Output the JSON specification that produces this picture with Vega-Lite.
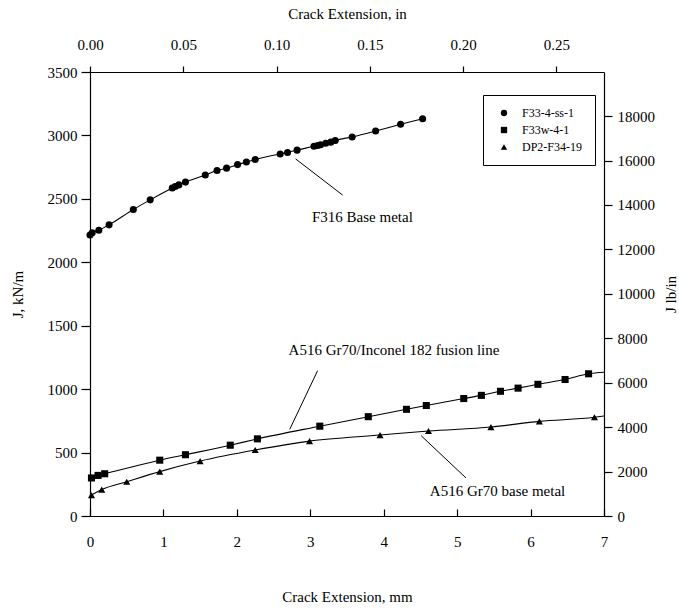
{
  "$schema": "https://vega.github.io/schema/vega-lite/v6.json",
  "width": 514,
  "height": 444,
  "autosize": "none",
  "padding": {"left": 90, "top": 72, "right": 75, "bottom": 94},
  "background": "white",
  "config": {
    "font": "Liberation Serif",
    "view": {"stroke": null},
    "axis": {
      "labelFont": "Liberation Serif", "titleFont": "Liberation Serif",
      "labelFontSize": 15, "titleFontSize": 15, "titleFontWeight": "normal",
      "labelColor": "black", "titleColor": "black", "domainColor": "black", "tickColor": "black",
      "domainWidth": 1.2, "tickWidth": 1.2, "grid": false, "labelFlush": false
    },
    "legend": {
      "labelFont": "Liberation Serif", "labelFontSize": 12, "labelColor": "black",
      "strokeColor": "black", "padding": 12, "symbolSize": 40, "symbolFillColor": "black",
      "symbolStrokeColor": "black", "symbolStrokeWidth": 0, "rowPadding": 5, "labelOffset": 12, "symbolOffset": 3
    }
  },
  "datasets": {
    "curves": [
      {"series": "F33-4-ss-1", "mm": 0.00, "J": 2215, "marker": true},
      {"series": "F33-4-ss-1", "mm": 0.03, "J": 2233, "marker": true},
      {"series": "F33-4-ss-1", "mm": 0.12, "J": 2253, "marker": true},
      {"series": "F33-4-ss-1", "mm": 0.26, "J": 2295, "marker": true},
      {"series": "F33-4-ss-1", "mm": 0.59, "J": 2416, "marker": true},
      {"series": "F33-4-ss-1", "mm": 0.82, "J": 2492, "marker": true},
      {"series": "F33-4-ss-1", "mm": 1.12, "J": 2585, "marker": true},
      {"series": "F33-4-ss-1", "mm": 1.16, "J": 2597, "marker": true},
      {"series": "F33-4-ss-1", "mm": 1.21, "J": 2610, "marker": true},
      {"series": "F33-4-ss-1", "mm": 1.30, "J": 2632, "marker": true},
      {"series": "F33-4-ss-1", "mm": 1.57, "J": 2688, "marker": true},
      {"series": "F33-4-ss-1", "mm": 1.73, "J": 2724, "marker": true},
      {"series": "F33-4-ss-1", "mm": 1.86, "J": 2742, "marker": true},
      {"series": "F33-4-ss-1", "mm": 2.01, "J": 2770, "marker": true},
      {"series": "F33-4-ss-1", "mm": 2.13, "J": 2790, "marker": true},
      {"series": "F33-4-ss-1", "mm": 2.25, "J": 2810, "marker": true},
      {"series": "F33-4-ss-1", "mm": 2.59, "J": 2854, "marker": true},
      {"series": "F33-4-ss-1", "mm": 2.69, "J": 2866, "marker": true},
      {"series": "F33-4-ss-1", "mm": 2.82, "J": 2884, "marker": true},
      {"series": "F33-4-ss-1", "mm": 3.05, "J": 2914, "marker": true},
      {"series": "F33-4-ss-1", "mm": 3.10, "J": 2921, "marker": true},
      {"series": "F33-4-ss-1", "mm": 3.14, "J": 2927, "marker": true},
      {"series": "F33-4-ss-1", "mm": 3.21, "J": 2939, "marker": true},
      {"series": "F33-4-ss-1", "mm": 3.28, "J": 2947, "marker": true},
      {"series": "F33-4-ss-1", "mm": 3.34, "J": 2960, "marker": true},
      {"series": "F33-4-ss-1", "mm": 3.57, "J": 2988, "marker": true},
      {"series": "F33-4-ss-1", "mm": 3.89, "J": 3035, "marker": true},
      {"series": "F33-4-ss-1", "mm": 4.23, "J": 3088, "marker": true},
      {"series": "F33-4-ss-1", "mm": 4.53, "J": 3132, "marker": true},
      {"series": "F33w-4-1", "mm": 0.02, "J": 300, "marker": true},
      {"series": "F33w-4-1", "mm": 0.11, "J": 320, "marker": true},
      {"series": "F33w-4-1", "mm": 0.20, "J": 333, "marker": true},
      {"series": "F33w-4-1", "mm": 0.95, "J": 440, "marker": true},
      {"series": "F33w-4-1", "mm": 1.30, "J": 483, "marker": true},
      {"series": "F33w-4-1", "mm": 1.91, "J": 558, "marker": true},
      {"series": "F33w-4-1", "mm": 2.28, "J": 608, "marker": true},
      {"series": "F33w-4-1", "mm": 3.13, "J": 708, "marker": true},
      {"series": "F33w-4-1", "mm": 3.79, "J": 783, "marker": true},
      {"series": "F33w-4-1", "mm": 4.31, "J": 841, "marker": true},
      {"series": "F33w-4-1", "mm": 4.58, "J": 871, "marker": true},
      {"series": "F33w-4-1", "mm": 5.09, "J": 926, "marker": true},
      {"series": "F33w-4-1", "mm": 5.33, "J": 951, "marker": true},
      {"series": "F33w-4-1", "mm": 5.59, "J": 983, "marker": true},
      {"series": "F33w-4-1", "mm": 5.83, "J": 1008, "marker": true},
      {"series": "F33w-4-1", "mm": 6.10, "J": 1038, "marker": true},
      {"series": "F33w-4-1", "mm": 6.47, "J": 1076, "marker": true},
      {"series": "F33w-4-1", "mm": 6.79, "J": 1121, "marker": true},
      {"series": "F33w-4-1", "mm": 7.00, "J": 1133, "marker": false},
      {"series": "DP2-F34-19", "mm": 0.02, "J": 165, "marker": true},
      {"series": "DP2-F34-19", "mm": 0.16, "J": 208, "marker": true},
      {"series": "DP2-F34-19", "mm": 0.50, "J": 270, "marker": true},
      {"series": "DP2-F34-19", "mm": 0.95, "J": 350, "marker": true},
      {"series": "DP2-F34-19", "mm": 1.50, "J": 433, "marker": true},
      {"series": "DP2-F34-19", "mm": 2.25, "J": 520, "marker": true},
      {"series": "DP2-F34-19", "mm": 2.99, "J": 590, "marker": true},
      {"series": "DP2-F34-19", "mm": 3.95, "J": 638, "marker": true},
      {"series": "DP2-F34-19", "mm": 4.61, "J": 670, "marker": true},
      {"series": "DP2-F34-19", "mm": 5.46, "J": 701, "marker": true},
      {"series": "DP2-F34-19", "mm": 6.12, "J": 746, "marker": true},
      {"series": "DP2-F34-19", "mm": 6.87, "J": 778, "marker": true},
      {"series": "DP2-F34-19", "mm": 7.00, "J": 788, "marker": false}
    ],
    "notes": [
      {"label": "F316 Base metal", "mm": 3.71, "J": 2360},
      {"label": "A516 Gr70/Inconel 182 fusion line", "mm": 4.14, "J": 1308},
      {"label": "A516 Gr70 base metal", "mm": 5.55, "J": 200}
    ],
    "leaders": [
      {"mm": 2.80, "J": 2815, "mm2": 3.44, "J2": 2530},
      {"mm": 3.10, "J": 1146, "mm2": 2.72, "J2": 683},
      {"mm": 4.51, "J": 633, "mm2": 5.12, "J2": 300}
    ],
    "secondary": [
      {"inch": 0, "lbin": 0},
      {"inch": 0.2756, "lbin": 19985}
    ]
  },
  "layer": [
    {
      "layer": [
        {
          "data": {"name": "curves"},
          "mark": {"type": "line", "color": "black", "strokeWidth": 1.1, "interpolate": "monotone"},
          "encoding": {
            "x": {"field": "mm", "type": "quantitative",
              "scale": {"domain": [0, 7], "nice": false},
              "axis": {"orient": "bottom", "title": "Crack Extension, mm", "values": [0, 1, 2, 3, 4, 5, 6, 7], "format": "d",
                "tickSize": -7, "labelPadding": 25, "titlePadding": 40}},
            "y": {"field": "J", "type": "quantitative",
              "scale": {"domain": [0, 3500], "nice": false},
              "axis": {"orient": "left", "title": "J, kN/m", "values": [0, 500, 1000, 1500, 2000, 2500, 3000, 3500], "format": "d",
                "tickSize": 9, "labelPadding": 4, "titlePadding": 22}},
            "detail": {"field": "series"}
          }
        },
        {
          "data": {"name": "curves"},
          "transform": [{"filter": "datum.marker"}],
          "mark": {"type": "point", "filled": true, "color": "black", "opacity": 1, "size": 50},
          "encoding": {
            "x": {"field": "mm", "type": "quantitative"},
            "y": {"field": "J", "type": "quantitative"},
            "shape": {"field": "series", "type": "nominal",
              "scale": {"domain": ["F33-4-ss-1", "F33w-4-1", "DP2-F34-19"], "range": ["circle", "square", "triangle-up"]},
              "legend": {"title": null, "orient": "none", "legendX": 393, "legendY": 23}}
          }
        },
        {
          "data": {"name": "leaders"},
          "mark": {"type": "rule", "color": "black", "strokeWidth": 1},
          "encoding": {
            "x": {"field": "mm", "type": "quantitative"},
            "y": {"field": "J", "type": "quantitative"},
            "x2": {"field": "mm2"},
            "y2": {"field": "J2"}
          }
        },
        {
          "data": {"name": "notes"},
          "mark": {"type": "text", "font": "Liberation Serif", "fontSize": 15, "color": "black", "align": "center", "baseline": "middle"},
          "encoding": {
            "x": {"field": "mm", "type": "quantitative"},
            "y": {"field": "J", "type": "quantitative"},
            "text": {"field": "label"}
          }
        }
      ]
    },
    {
      "data": {"name": "secondary"},
      "mark": {"type": "point", "opacity": 0},
      "encoding": {
        "x": {"field": "inch", "type": "quantitative",
          "scale": {"domain": [0, 0.2756], "nice": false},
          "axis": {"orient": "top", "title": "Crack Extension, in", "values": [0, 0.05, 0.1, 0.15, 0.2, 0.25], "format": ".2f",
            "tickSize": 6, "labelPadding": 14, "titlePadding": 16}},
        "y": {"field": "lbin", "type": "quantitative",
          "scale": {"domain": [0, 19985], "nice": false},
          "axis": {"orient": "right", "title": "J lb/in", "values": [0, 2000, 4000, 6000, 8000, 10000, 12000, 14000, 16000, 18000], "format": "d",
            "tickSize": 8, "labelPadding": 5, "titleAngle": 270, "titleX": 66, "titleY": 222, "titleAlign": "center", "titleBaseline": "middle"}}
      }
    }
  ],
  "resolve": {"scale": {"x": "independent", "y": "independent"}}
}
